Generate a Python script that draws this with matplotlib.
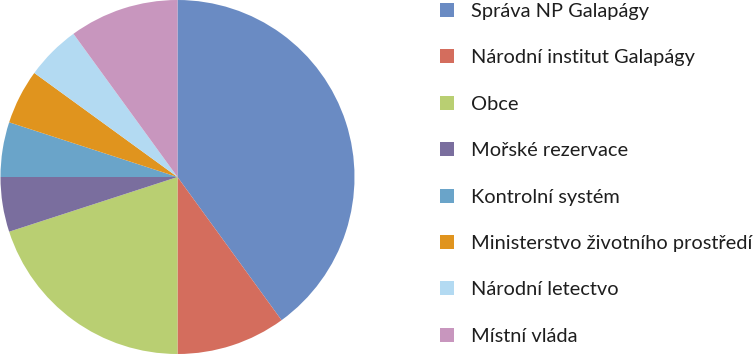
import matplotlib.pyplot as plt
from matplotlib.patches import Patch

# podíly jednotlivých institucí
labels = ["Správa NP Galapágy", "Národní institut Galapágy", "Obce",
          "Mořské rezervace", "Kontrolní systém",
          "Ministerstvo životního prostředí", "Národní letectvo", "Místní vláda"]
shares = [40, 10, 20, 5, 5, 5, 5, 10]
colors = ["#6A8BC3", "#D46D5D", "#B9CF72", "#7A6E9E",
          "#6AA4C9", "#E0941E", "#B3DAF2", "#C896BE"]

plt.rcParams['font.family'] = ['Lato', 'DejaVu Sans']

fig = plt.figure(figsize=(7.55, 3.54), dpi=100)
ax = fig.add_axes([0, 0, 355 / 755, 1])
ax.pie(shares, colors=colors, startangle=90, counterclock=False,
       wedgeprops=dict(linewidth=0))
ax.set_xlim(-1.0, 1.0)
ax.set_ylim(-1.0, 1.0)
ax.set_aspect('equal')
ax.axis('off')

handles = [Patch(facecolor=c, edgecolor='none') for c in colors]
fig.legend(handles, labels, loc='upper left', bbox_to_anchor=(440 / 755, 1 - 3 / 354),
           frameon=False, fontsize=14.4, handlelength=0.7, handleheight=0.7,
           handletextpad=0.85, labelspacing=1.47, borderaxespad=0, borderpad=0,
           labelcolor='#1E1E1E')

fig.savefig("out.png", dpi=100)
